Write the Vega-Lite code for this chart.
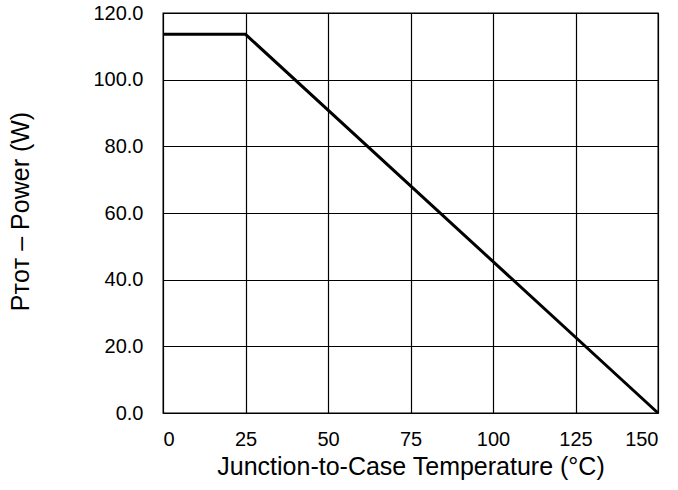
{
  "$schema": "https://vega.github.io/schema/vega-lite/v6.json",
  "autosize": "none",
  "width": 495,
  "height": 400,
  "padding": {"left": 163, "top": 13, "right": 20, "bottom": 77},
  "background": "white",
  "config": {
    "font": "Liberation Sans",
    "view": {"stroke": "black", "strokeWidth": 1.3},
    "axis": {
      "grid": true,
      "gridColor": "black",
      "gridOpacity": 1,
      "gridWidth": 1.2,
      "domain": false,
      "ticks": false,
      "labelFont": "Liberation Sans",
      "labelFontSize": 20,
      "labelColor": "black",
      "titleFont": "Liberation Sans",
      "titleFontSize": 25,
      "titleFontWeight": "normal",
      "titleColor": "black"
    }
  },
  "data": {"values": [
    {"t": 0, "p": 113.6},
    {"t": 25, "p": 113.6},
    {"t": 150, "p": 0}
  ]},
  "mark": {"type": "line", "color": "black", "strokeWidth": 3},
  "encoding": {
    "x": {
      "field": "t", "type": "quantitative",
      "scale": {"domain": [0, 150], "nice": false},
      "axis": {"values": [0, 25, 50, 75, 100, 125, 150], "labelPadding": 16, "title": "Junction-to-Case Temperature (°C)", "titleY": 53, "titleBaseline": "middle"}
    },
    "y": {
      "field": "p", "type": "quantitative",
      "scale": {"domain": [0, 120], "nice": false},
      "axis": {"values": [0, 20, 40, 60, 80, 100, 120], "format": ".1f", "labelPadding": 20, "title": "Pᴛᴏᴛ – Power (W)", "titleX": -143, "titleY": 198, "titleAlign": "center", "titleBaseline": "middle", "titleAngle": -90}
    }
  }
}
